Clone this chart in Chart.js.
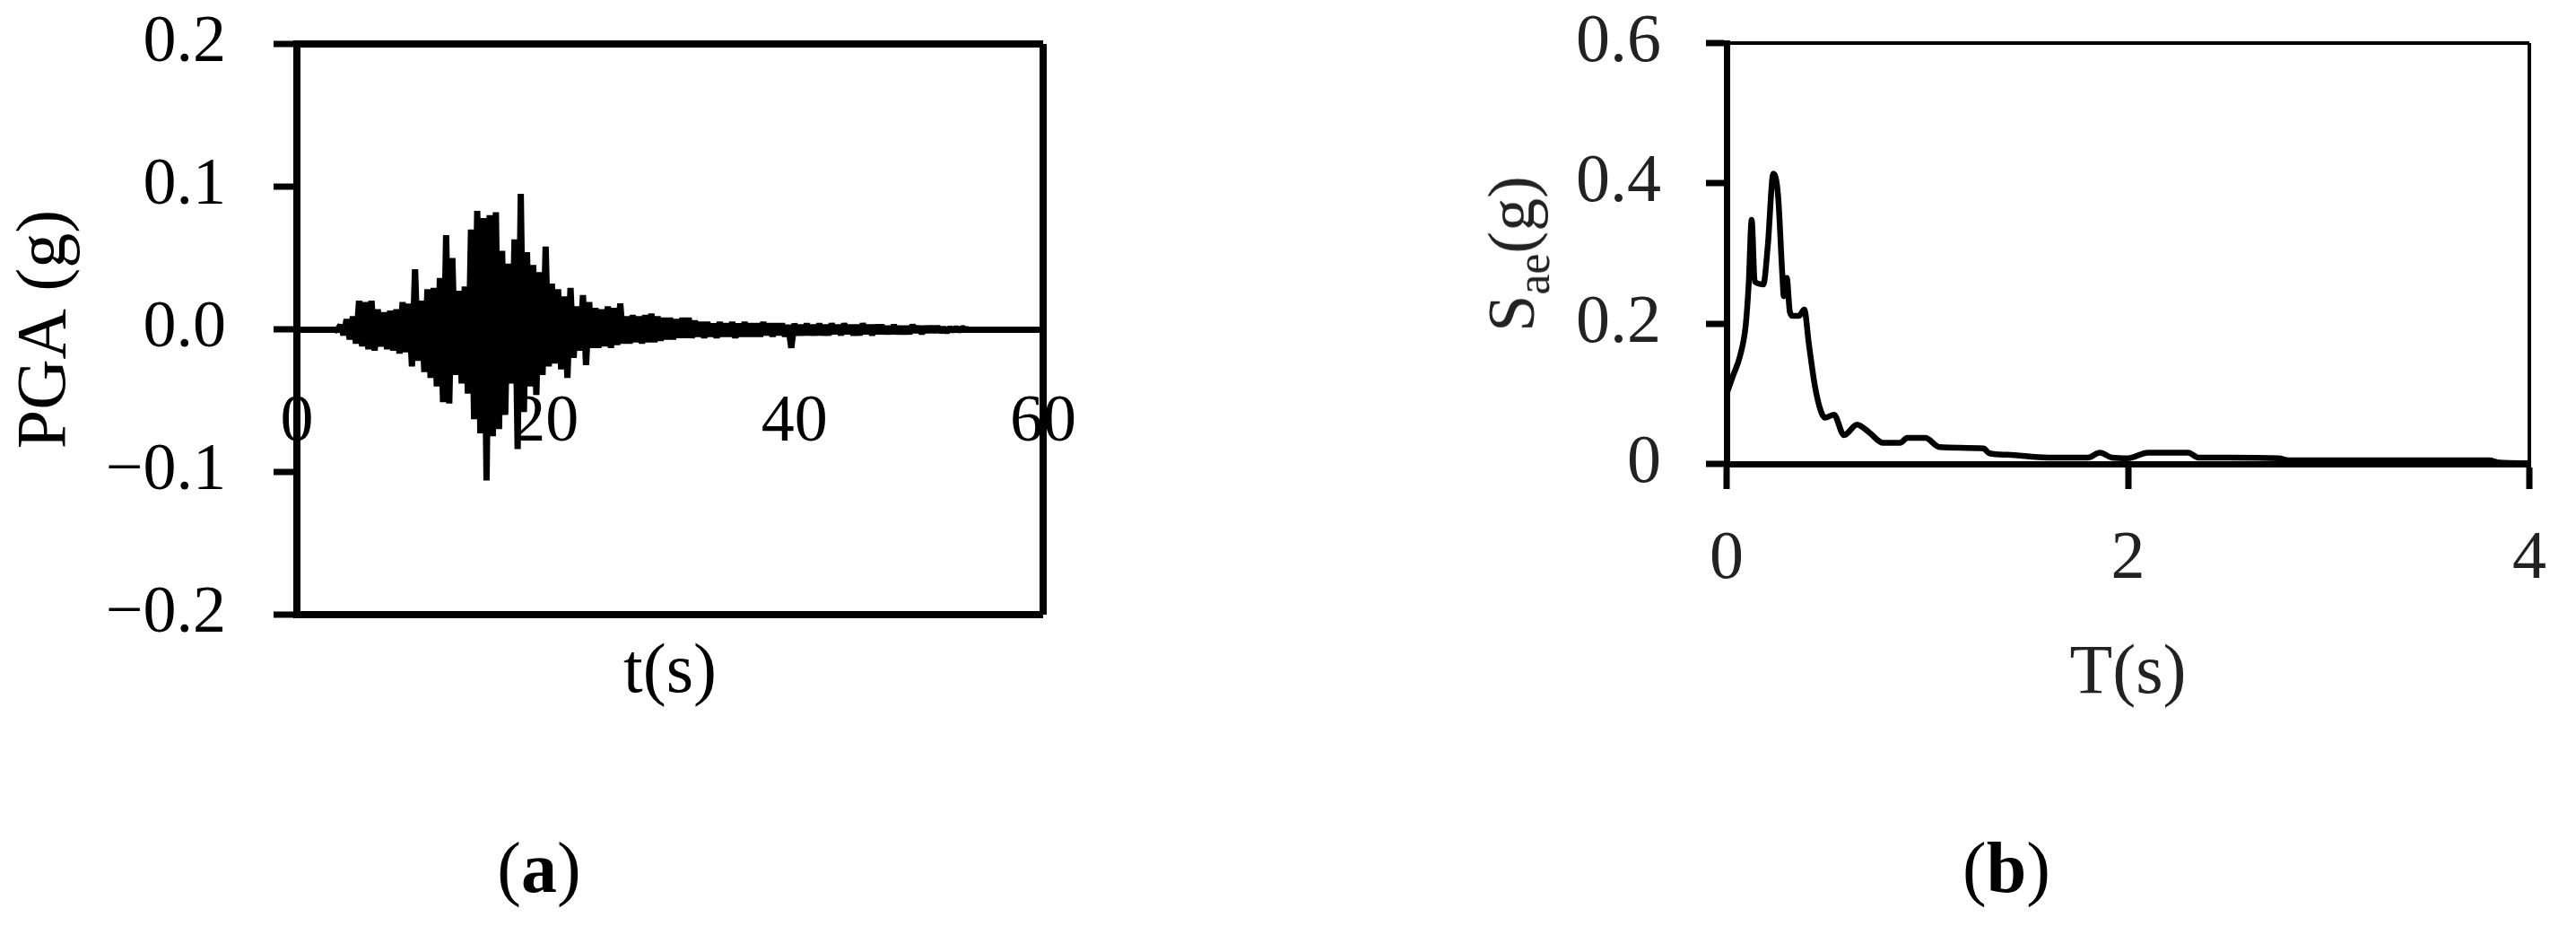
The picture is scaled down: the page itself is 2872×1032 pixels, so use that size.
<!DOCTYPE html>
<html>
<head>
<meta charset="utf-8">
<title>PGA record and spectrum</title>
<script src="https://cdn.jsdelivr.net/npm/chart.js@4.4.1/dist/chart.umd.min.js"></script>
<style>
  html, body { margin: 0; padding: 0; background: #fff; }
  body { position: relative; width: 2872px; height: 1032px; overflow: hidden;
         font-family: 'Liberation Serif', 'Times New Roman', serif; }
  canvas { position: absolute; top: 0; }
  #pgaChart { left: 0; }
  #spectrumChart { left: 1560px; }
  .panel { position: absolute; top: 927px; width: 200px; text-align: center;
           font-size: 80px; line-height: 1; color: #000; }
  #saeTitle { position: absolute; left: 1685px; top: 283px; white-space: nowrap;
              transform: translate(-50%, -50%) rotate(-90deg);
              font-size: 74px; line-height: 1; color: #222; }
  #saeTitle span { font-size: 52px; position: relative; top: 17px; }
</style>
</head>
<body>
<canvas id="pgaChart" width="1260" height="1032"></canvas>
<canvas id="spectrumChart" width="1312" height="1032"></canvas>
<div id="saeTitle">S<span>ae</span>(g)</div>
<div class="panel" style="left:501px">(<b>a</b>)</div>
<div class="panel" style="left:2137px">(<b>b</b>)</div>
<script>
const FONT = "'Liberation Serif', 'Times New Roman', serif";
const CLEAR = 'rgba(0,0,0,0)';

// (a) acceleration record (g), one sample every 0.25 s starting at 3.0 s
const pgaStart = 3.0;
const pgaStep = 0.25;
const pgaValues = [
  0.000, -0.001, 0.003, -0.004, 0.007, -0.007, 0.009, -0.010,   // 3 s
  0.020, -0.012, 0.019, -0.014, 0.020, -0.015, 0.014, -0.012,   // 5 s
  0.012, -0.014, 0.013, -0.015, 0.014, -0.017, 0.019, -0.016,   // 7 s
  0.018, -0.026, 0.042, -0.022, 0.020, -0.030, 0.028, -0.034,   // 9 s
  0.029, -0.040, 0.036, -0.051, 0.066, -0.052, 0.050, -0.032,   // 11 s
  0.027, -0.038, 0.030, -0.045, 0.070, -0.063, 0.083, -0.073,   // 13 s
  0.078, -0.106, 0.080, -0.075, 0.082, -0.070, 0.055, -0.060,   // 15 s
  0.046, -0.038, 0.063, -0.084, 0.095, -0.058, 0.054, -0.040,   // 17 s
  0.045, -0.046, 0.040, -0.032, 0.058, -0.026, 0.032, -0.024,   // 19 s
  0.028, -0.028, 0.023, -0.034, 0.029, -0.020, 0.016, -0.015,   // 21 s
  0.024, -0.025, 0.019, -0.013, 0.015, -0.013, 0.014, -0.012,   // 23 s
  0.016, -0.013, 0.015, -0.011, 0.018, -0.010, 0.009, -0.010,   // 25 s
  0.010, -0.009, 0.009, -0.010, 0.010, -0.009, 0.011, -0.009,   // 27 s
  0.009, -0.008, 0.008, -0.007, 0.008, -0.007, 0.007, -0.006,   // 29 s
  0.008, -0.006, 0.008, -0.006, 0.006, -0.005, 0.005, -0.006,   // 31 s
  0.005, -0.005, 0.004, -0.006, 0.005, -0.005, 0.004, -0.005,   // 33 s
  0.005, -0.006, 0.004, -0.005, 0.005, -0.005, 0.004, -0.005,   // 35 s
  0.004, -0.005, 0.005, -0.004, 0.004, -0.005, 0.004, -0.004,   // 37 s
  0.004, -0.005, 0.003, -0.013, 0.004, -0.004, 0.003, -0.004,   // 39 s
  0.004, -0.004, 0.003, -0.004, 0.004, -0.004, 0.003, -0.004,   // 41 s
  0.004, -0.003, 0.003, -0.004, 0.004, -0.003, 0.003, -0.004,   // 43 s
  0.003, -0.004, 0.004, -0.003, 0.003, -0.004, 0.003, -0.003,   // 45 s
  0.003, -0.003, 0.002, -0.003, 0.003, -0.003, 0.002, -0.003,   // 47 s
  0.002, -0.003, 0.003, -0.002, 0.002, -0.003, 0.002, -0.002,   // 49 s
  0.002, -0.002, 0.002, -0.002, 0.001, -0.002, 0.001, -0.001,   // 51 s
  0.001, -0.001, 0.001, 0.000, 0.000                            // 53 s
];
const pgaXTicks = [0, 20, 40, 60];
const pgaYTicks = [-0.2, -0.1, 0, 0.1, 0.2];

// (b) elastic response spectrum
const specPeriod = [0, 0.035, 0.066, 0.095, 0.11, 0.125, 0.14, 0.183, 0.205, 0.233,
  0.256, 0.278, 0.285, 0.30, 0.315, 0.33, 0.36, 0.387, 0.41, 0.44,
  0.47, 0.49, 0.535, 0.585, 0.65, 0.71, 0.78, 0.865, 0.90, 0.99,
  1.06, 1.28, 1.31, 1.40, 1.6, 1.8, 1.86, 1.92, 2.0, 2.1,
  2.3, 2.35, 2.5, 2.75, 2.8, 3.2, 3.6, 3.8, 3.85, 4.0];
const specSa = [0.100, 0.128, 0.153, 0.197, 0.256, 0.348, 0.260, 0.256, 0.310, 0.414,
  0.384, 0.268, 0.239, 0.265, 0.217, 0.211, 0.211, 0.220, 0.171, 0.111,
  0.075, 0.066, 0.070, 0.041, 0.056, 0.045, 0.030, 0.030, 0.037, 0.037,
  0.024, 0.022, 0.015, 0.013, 0.009, 0.009, 0.016, 0.009, 0.008, 0.016,
  0.016, 0.009, 0.009, 0.008, 0.005, 0.005, 0.005, 0.005, 0.002, 0.001];
const specXTicks = [0, 2, 4];
const specYTicks = [0, 0.2, 0.4, 0.6];

Chart.defaults.font.family = FONT;

const useTicks = list => scale => { scale.ticks = list.map(v => ({ value: v })); };
const near = (a, b) => Math.abs(a - b) < 1e-9;

// fixed axis width, and no extra room for the end labels
function fixWidth(w) {
  return s => { s.width = w; s.paddingTop = 0; s.paddingBottom = 0; };
}

function pgaLabel(v) {
  if (near(v, 0)) return '0.0';
  return v.toFixed(1).replace('-', '\u2212');
}

const basePlugins = { legend: { display: false }, tooltip: { enabled: false } };

new Chart(document.getElementById('pgaChart'), {
  type: 'line',
  data: {
    datasets: [{
      data: pgaValues.map((a, i) => ({ x: pgaStart + i * pgaStep, y: a })),
      borderColor: '#000',
      borderWidth: 7,
      borderJoinStyle: 'bevel',
      pointRadius: 0,
      tension: 0
    }]
  },
  options: {
    responsive: false,
    animation: false,
    devicePixelRatio: 1,
    layout: { padding: { left: 0, top: 49, right: 81, bottom: 235 } },
    plugins: basePlugins,
    scales: {
      x: {
        type: 'linear',
        position: { y: 0 },
        min: 0, max: 60,
        afterBuildTicks: useTicks(pgaXTicks),
        border: { color: '#000', width: 7 },
        grid: {
          drawTicks: false,
          lineWidth: 8,
          color: c => c.tick && near(c.tick.value, 60) ? '#000' : CLEAR
        },
        ticks: { autoSkip: false, maxRotation: 0, padding: 60, color: '#000', font: { size: 74 } }
      },
      xTitle: {
        type: 'linear',
        position: 'bottom',
        min: 0, max: 60,
        afterFit: s => { s.height = 112; },
        ticks: { display: false },
        grid: { display: false, drawTicks: false },
        border: { display: false },
        title: { display: true, text: 't(s)', color: '#000', font: { size: 78 }, padding: 0 }
      },
      y: {
        type: 'linear',
        position: 'left',
        min: -0.2, max: 0.2,
        afterBuildTicks: useTicks(pgaYTicks),
        afterFit: fixWidth(331),
        border: { color: '#000', width: 8 },
        grid: {
          lineWidth: 8,
          color: c => c.tick && near(Math.abs(c.tick.value), 0.2) ? '#000' : CLEAR,
          tickColor: '#000', tickWidth: 7, tickLength: 26
        },
        ticks: { padding: 53, color: '#000', font: { size: 74 }, callback: pgaLabel },
        title: { display: true, text: 'PGA (g)', color: '#000', font: { size: 78 }, padding: { top: 5, bottom: 0 } }
      }
    }
  }
});

new Chart(document.getElementById('spectrumChart'), {
  type: 'line',
  data: {
    datasets: [{
      data: specPeriod.map((t, i) => ({ x: t, y: specSa[i] })),
      borderColor: '#000',
      borderWidth: 6.5,
      pointRadius: 0,
      cubicInterpolationMode: 'monotone'
    }]
  },
  options: {
    responsive: false,
    animation: false,
    devicePixelRatio: 1,
    layout: { padding: { left: 0, top: 48, right: 36, bottom: 234 } },
    plugins: basePlugins,
    scales: {
      x: {
        type: 'linear',
        position: 'bottom',
        min: 0, max: 4,
        afterBuildTicks: useTicks(specXTicks),
        afterFit: s => { s.height = 281; },
        border: { color: '#000', width: 7 },
        grid: {
          lineWidth: 4,
          color: c => c.tick && near(c.tick.value, 4) ? '#000' : CLEAR,
          tickColor: '#000', tickWidth: 7, tickLength: 28
        },
        ticks: { autoSkip: false, maxRotation: 0, padding: 33, color: '#222', font: { size: 76 } },
        title: { display: true, text: 'T(s)', color: '#222', font: { size: 78 }, padding: 0 }
      },
      y: {
        type: 'linear',
        position: 'left',
        min: 0, max: 0.6,
        afterBuildTicks: useTicks(specYTicks),
        afterFit: fixWidth(365),
        border: { color: '#000', width: 7 },
        grid: {
          lineWidth: 4,
          color: c => c.tick && near(c.tick.value, 0.6) ? '#000' : CLEAR,
          tickColor: '#000', tickWidth: 7, tickLength: 23
        },
        ticks: {
          padding: 50, color: '#222', font: { size: 76 },
          callback: v => near(v, 0) ? '0' : v.toFixed(1)
        }
      }
    }
  }
});
</script>
</body>
</html>
